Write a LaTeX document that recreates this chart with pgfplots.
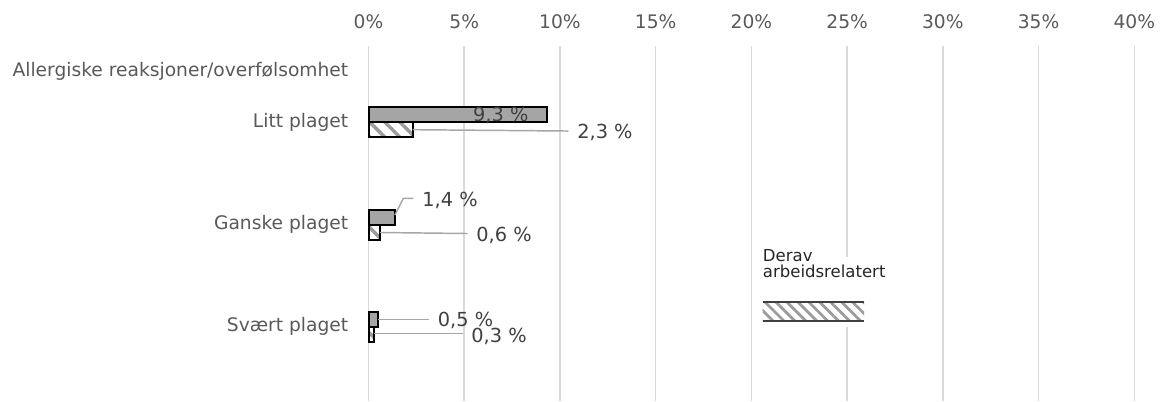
\documentclass[border=0pt]{standalone}
\usepackage{pgfplots}
\pgfplotsset{compat=1.18}
\usepackage{fontspec}
\setmainfont{DejaVu Sans}
\usetikzlibrary{patterns.meta}

\definecolor{tickgray}{HTML}{595959}
\definecolor{labelgray}{HTML}{404040}
\definecolor{legendtext}{HTML}{262626}
\definecolor{gridgray}{HTML}{D9D9D9}
\definecolor{barfill}{HTML}{A5A5A5}
\definecolor{hatchgray}{HTML}{9C9C9C}
\definecolor{leadergray}{HTML}{A6A6A6}

\tikzset{
  hatch/.style={pattern={Lines[angle=-45,distance=8pt,line width=2.6pt]}, pattern color=hatchgray},
  hatchkey/.style={pattern={Lines[angle=-45,distance=5.8pt,line width=2.1pt]}, pattern color=hatchgray},
  vlabel/.style={font=\fontsize{14.5}{17}\selectfont, text=labelgray, inner sep=0pt},
  leader/.style={draw=leadergray, line width=1.1pt},
}

\begin{document}
\begin{tikzpicture}[x=1pt,y=1pt]
\useasboundingbox (0,0) rectangle (870,300.75);
\begin{axis}[
  at={(276.375pt,0pt)}, anchor=south west,
  scale only axis, width=574.35pt, height=266.25pt,
  xmin=0, xmax=40, ymin=0.253, ymax=3.727, y dir=reverse,
  axis line style={draw=none},
  tick style={draw=none}, major tick length=0pt,
  xtick={0,5,10,15,20,25,30,35,40},
  xticklabels={0\%,5\%,10\%,15\%,20\%,25\%,30\%,35\%,40\%},
  xticklabel pos=upper,
  xmajorgrids, major grid style={gridgray, line width=1.1pt},
  ytick={0.5,1,2,3},
  yticklabels={Allergiske reaksjoner/overfølsomhet, Litt plaget, Ganske plaget, Svært plaget},
  tick label style={font=\fontsize{14}{16.8}\selectfont, text=tickgray},
  xticklabel style={anchor=base, inner sep=0pt, yshift=13.4pt},
  yticklabel style={anchor=east, inner sep=0pt, xshift=-15pt},
  clip=false,
]
% Alle plagede
\addplot[xbar, bar width=0.1468, bar shift=-0.0734, fill=barfill, draw=black, line width=1.5pt]
  coordinates {(9.3,1) (1.4,2) (0.5,3)};
% Derav arbeidsrelatert
\addplot[xbar, bar width=0.1468, bar shift=0.0734, hatch, draw=black, line width=1.5pt]
  coordinates {(2.3,1) (0.6,2) (0.3,3)};

% value labels with leader lines
\node[vlabel] at (axis cs:6.91,0.932) {9,3 \%};
\draw[leader] (axis cs:2.31,1.072) -- (axis cs:10.44,1.085);
\node[vlabel] at (axis cs:12.35,1.102) {2,3 \%};
\draw[leader] (axis cs:1.38,1.907) -- (axis cs:1.82,1.744) -- (axis cs:2.34,1.744);
\node[vlabel] at (axis cs:4.26,1.760) {1,4 \%};
\draw[leader] (axis cs:0.6,2.078) -- (axis cs:5.18,2.088);
\node[vlabel] at (axis cs:7.08,2.103) {0,6 \%};
\draw[leader] (axis cs:0.5,2.928) -- (axis cs:3.16,2.928);
\node[vlabel] at (axis cs:5.07,2.941) {0,5 \%};
\draw[leader] (axis cs:0.3,3.065) -- (axis cs:4.95,3.065);
\node[vlabel] at (axis cs:6.82,3.091) {0,3 \%};
\end{axis}

% legend
\fill[white] (567.75,55.5) rectangle (671.25,108);
\node[anchor=base west, inner sep=0pt, align=left, text=legendtext,
      font=\fontsize{12.4}{12.2}\selectfont] at (572.0,92.4) {Derav\\arbeidsrelatert};
\fill[hatchkey] (572.0,60.2) rectangle (648.0,74.5);
\draw[black!75, line width=1.3pt] (572.0,60.2) -- (648.0,60.2) (572.0,74.5) -- (648.0,74.5);
\end{tikzpicture}
\end{document}
